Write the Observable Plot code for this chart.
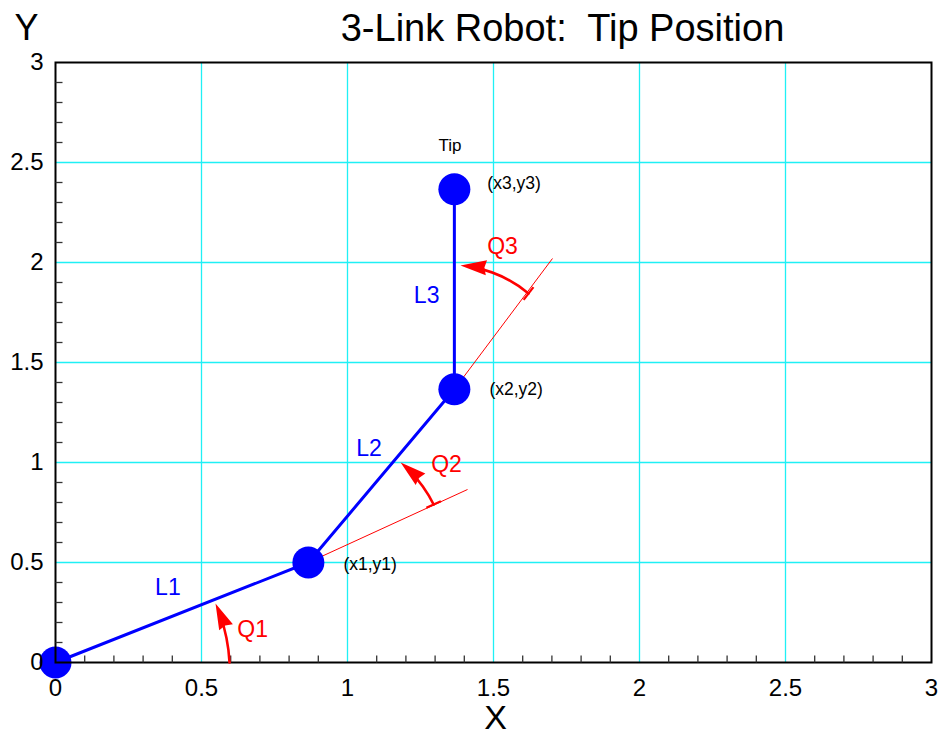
<!DOCTYPE html>
<html>
<head>
<meta charset="utf-8">
<script src="https://cdn.jsdelivr.net/npm/d3@7"></script>
<script src="https://cdn.jsdelivr.net/npm/@observablehq/plot@0.6"></script>
<style>
  body { margin: 0; background: #fff; }
</style>
</head>
<body>
<div id="chart"></div>
<script>
// Joint positions of the 3-link arm: base, joint 1, joint 2, tip
const jointX = [0, 0.866, 1.366, 1.366];
const jointY = [0, 0.5, 1.366, 2.366];

// Extension lines of link 1 and link 2 (angle references)
const refX1 = [0.866, 1.366];
const refY1 = [0.5, 1.366];
const refX2 = [1.411, 1.702];
const refY2 = [0.865, 2.02];

// Joint-angle arcs: center joint, start on reference, arrow tip on link, bend (deg)
const arcCenter = [0, 1, 2];
const arcStartX = [0.596, 1.295, 1.620];
const arcStartY = [0, 0.79, 1.845];
const arcEndX = [0.548, 1.182, 1.387];
const arcEndY = [0.295, 1.0, 1.985];
const arcBend = [-10.5, -11.7, -17.5];

// Labels
const linkLabels = ["L1", "L2", "L3"];
const linkLabelX = [0.385, 1.074, 1.271];
const linkLabelY = [0.375, 1.0675, 1.835];
const angleLabels = ["Q1", "Q2", "Q3"];
const angleLabelX = [0.675, 1.339, 1.531];
const angleLabelY = [0.165, 0.99, 2.077];
const pointLabels = ["(x1,y1)", "(x2,y2)", "(x3,y3)"];
const pointLabelX = [0.986, 1.486, 1.479];
const pointLabelY = [0.49, 1.365, 2.395];
const tipLabel = "Tip";
const tipLabelX = 1.351;
const tipLabelY = 2.585;

// Axis ticks
const xTicks = [0, 0.5, 1, 1.5, 2, 2.5, 3];
const yTicks = [0, 0.5, 1, 1.5, 2, 2.5, 3];
const minorTicks = d3.range(1, 30).map(i => i / 10).filter(v => Math.round(v * 10) % 5 !== 0);

const title = "3-Link Robot:\u00a0 Tip Position";

// Layout
const W = 940, H = 738, MT = 62, MR = 9, MB = 76, ML = 55;
const FONT = "'Liberation Sans', Arial, Helvetica, sans-serif";
const BLUE = "#0000ff", RED = "#ff0000", GRID = "#1ff0f5";

// Pixel mapping identical to the plot's x/y scales, used to orient arrowheads
const sx = d3.scaleLinear([0, 3], [ML, W - MR]);
const sy = d3.scaleLinear([0, 3], [H - MB, MT]);
const deg = 180 / Math.PI;

const joints = jointX.map((x, i) => ({x, y: jointY[i]}));
const refs = refX1.map((x1, i) => ({x1, y1: refY1[i], x2: refX2[i], y2: refY2[i]}));
const arcs = arcBend.map((bend, i) => {
  const cx = jointX[arcCenter[i]], cy = jointY[arcCenter[i]];
  const chord = Math.atan2(sy(arcEndY[i]) - sy(arcStartY[i]), sx(arcEndX[i]) - sx(arcStartX[i])) * deg;
  const radial = Math.atan2(sy(arcStartY[i]) - sy(cy), sx(arcStartX[i]) - sx(cx)) * deg;
  return {
    x1: arcStartX[i], y1: arcStartY[i], x2: arcEndX[i], y2: arcEndY[i],
    bend, headRotate: chord + bend + 90, tailRotate: radial
  };
});
const tails = arcs.slice(1);

// Custom symbols
const arrowHead = {draw(ctx) {
  ctx.moveTo(0, 0); ctx.lineTo(7.5, 26); ctx.lineTo(0, 24); ctx.lineTo(-7.5, 26); ctx.closePath();
}};
const tailBar = {draw(ctx) { ctx.moveTo(-8, 0); ctx.lineTo(8, 0); }};
const tickUp = {draw(ctx) { ctx.moveTo(0, 0); ctx.lineTo(0, -7); }};
const tickRight = {draw(ctx) { ctx.moveTo(0, 0); ctx.lineTo(7, 0); }};

const fmt = d => `${d}`;

const chart = Plot.plot({
  width: W,
  height: H,
  marginTop: MT,
  marginRight: MR,
  marginBottom: MB,
  marginLeft: ML,
  x: {domain: [0, 3]},
  y: {domain: [0, 3]},
  style: {fontFamily: FONT, fontSize: "24px", color: "black", background: "white", overflow: "visible"},
  marks: [
    Plot.gridX(xTicks.slice(1, -1), {stroke: GRID, strokeOpacity: 1, strokeWidth: 1.3}),
    Plot.gridY(yTicks.slice(1, -1), {stroke: GRID, strokeOpacity: 1, strokeWidth: 1.3}),
    Plot.link(refs, {x1: "x1", y1: "y1", x2: "x2", y2: "y2", stroke: RED, strokeWidth: 1}),
    Plot.line(joints, {x: "x", y: "y", stroke: BLUE, strokeWidth: 3}),
    Plot.dot(joints, {x: "x", y: "y", r: 16, fill: BLUE, stroke: null}),
    Plot.frame({stroke: "black", strokeWidth: 2}),
    Plot.dot(minorTicks, {x: d => d, y: 0, symbol: tickUp, stroke: "#333", strokeWidth: 1.3, fill: "none"}),
    Plot.dot(minorTicks, {x: 0, y: d => d, symbol: tickRight, stroke: "#333", strokeWidth: 1.3, fill: "none"}),
    // one arrow per arc, since the bend angle is a constant option
    ...arcs.map(a => Plot.arrow([a], {x1: "x1", y1: "y1", x2: "x2", y2: "y2", bend: a.bend, headLength: 0, insetEnd: 12, stroke: RED, strokeWidth: 2.6})),
    Plot.dot(arcs, {x: "x2", y: "y2", symbol: arrowHead, rotate: "headRotate", fill: RED, stroke: null}),
    Plot.dot(tails, {x: "x1", y: "y1", symbol: tailBar, rotate: "tailRotate", stroke: RED, strokeWidth: 2.2, fill: "none"}),
    Plot.axisX(xTicks, {tickSize: 0, tickPadding: 16, label: null, fontSize: 24, tickFormat: fmt}),
    Plot.axisY(yTicks, {tickSize: 0, tickPadding: 12, label: null, fontSize: 24, tickFormat: fmt}),
    Plot.text(linkLabels, {x: (d, i) => linkLabelX[i], y: (d, i) => linkLabelY[i], text: d => d, fill: BLUE, fontSize: 23}),
    Plot.text(angleLabels, {x: (d, i) => angleLabelX[i], y: (d, i) => angleLabelY[i], text: d => d, fill: RED, fontSize: 23}),
    Plot.text(pointLabels, {x: (d, i) => pointLabelX[i], y: (d, i) => pointLabelY[i], text: d => d, fill: "black", fontSize: 17.5, textAnchor: "start"}),
    Plot.text([tipLabel], {x: tipLabelX, y: tipLabelY, text: d => d, fill: "black", fontSize: 17}),
    Plot.text([title], {frameAnchor: "top", text: d => d, dx: 69, dy: -34, fontSize: 38, fill: "black", lineAnchor: "middle"}),
    Plot.text(["X"], {frameAnchor: "bottom", text: d => d, dx: 2, dy: 56, fontSize: 34, fill: "black", lineAnchor: "middle"}),
    Plot.text(["Y"], {frameAnchor: "top-left", text: d => d, dx: -29, dy: -34, fontSize: 36, fill: "black", textAnchor: "middle", lineAnchor: "middle"})
  ]
});

document.getElementById("chart").appendChild(chart);
</script>
</body>
</html>
